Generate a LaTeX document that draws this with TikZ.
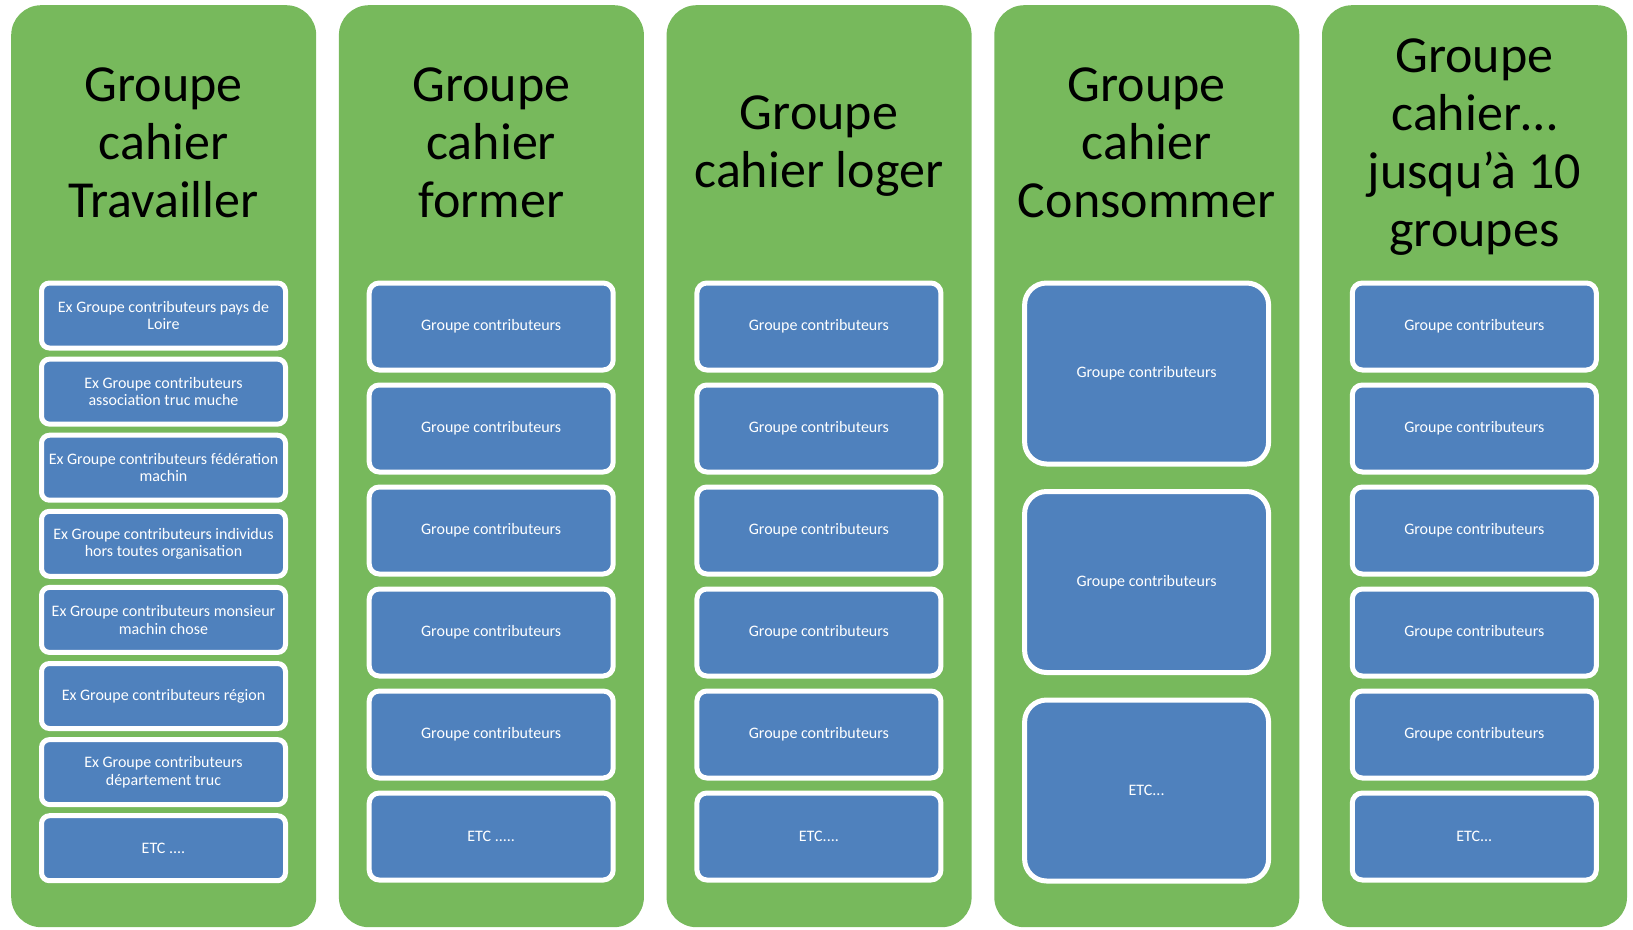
\documentclass[tikz,border=0pt]{standalone}
\usepackage{fontspec}
\setmainfont{Carlito}
\definecolor{colgreen}{RGB}{119,185,92}
\definecolor{boxblue}{RGB}{79,129,189}
\begin{document}
\begin{tikzpicture}[x=1pt,y=-1pt,
  column/.style={fill=colgreen, rounded corners=30pt, minimum width=305pt, minimum height=922pt, anchor=north west, inner sep=0pt},
  coltitle/.style={align=center, font=\fontsize{52}{58}\selectfont, text=black, inner sep=0pt},
  item/.style={draw=white, line width=5pt, fill=boxblue, text=white, align=center, font=\fontsize{16}{17.5}\selectfont, minimum width=244pt, inner sep=0pt},
  itemA/.style={item, rounded corners=8pt, minimum height=65pt},
  itemB/.style={item, rounded corners=10pt, minimum height=87pt},
  itemC/.style={item, rounded corners=22pt, minimum height=181pt},
]
\useasboundingbox (0,0) rectangle (1633,929);
% columns
\node[column] (col1) at (11,5) {};
\node[column] (col2) at (338.7,5) {};
\node[column] (col3) at (666.4,5) {};
\node[column] (col4) at (994.1,5) {};
\node[column] (col5) at (1321.8,5) {};
% titles
\node[coltitle] (t1) at (163.5,142.5) {Groupe\\cahier\\Travailler};
\node[coltitle] (t2) at (491.2,142.5) {Groupe\\cahier\\former};
\node[coltitle] (t3) at (818.9,146.5) {Groupe\\cahier loger};
\node[coltitle] (t4) at (1146.6,142.5) {Groupe\\cahier\\Consommer};
\node[coltitle] (t5) at (1474.3,147) {Groupe\\cahier…\\jusqu’à 10\\groupes};
% column 1
\node[itemA] (c1b1) at (163.5,315.5) {Ex Groupe contributeurs pays de\\Loire};
\node[itemA] (c1b2) at (163.5,391.6) {Ex Groupe contributeurs\\association truc muche};
\node[itemA] (c1b3) at (163.5,467.7) {Ex Groupe contributeurs fédération\\machin};
\node[itemA] (c1b4) at (163.5,543.8) {Ex Groupe contributeurs individus\\hors toutes organisation};
\node[itemA] (c1b5) at (163.5,619.9) {Ex Groupe contributeurs monsieur\\machin chose};
\node[itemA] (c1b6) at (163.5,696) {Ex Groupe contributeurs région};
\node[itemA] (c1b7) at (163.5,772.1) {Ex Groupe contributeurs\\département truc};
\node[itemA] (c1b8) at (163.5,848.2) {ETC ....};
% columns 2, 3, 5
\foreach \cx/\c in {491.2/2,818.9/3,1474.3/5}
  \foreach \k in {1,...,5}
    \node[itemB] (c\c b\k) at (\cx,{280+(\k-1)*102+46.5}) {Groupe contributeurs};
\node[itemB] (c2b6) at (491.2,836.5) {ETC .....};
\node[itemB] (c3b6) at (818.9,836.5) {ETC....};
\node[itemB] (c5b6) at (1474.3,836.5) {ETC...};
% column 4
\node[itemC] (c4b1) at (1146.6,373.5) {Groupe contributeurs};
\node[itemC] (c4b2) at (1146.6,582) {Groupe contributeurs};
\node[itemC] (c4b3) at (1146.6,790.5) {ETC...};
\end{tikzpicture}
\end{document}
